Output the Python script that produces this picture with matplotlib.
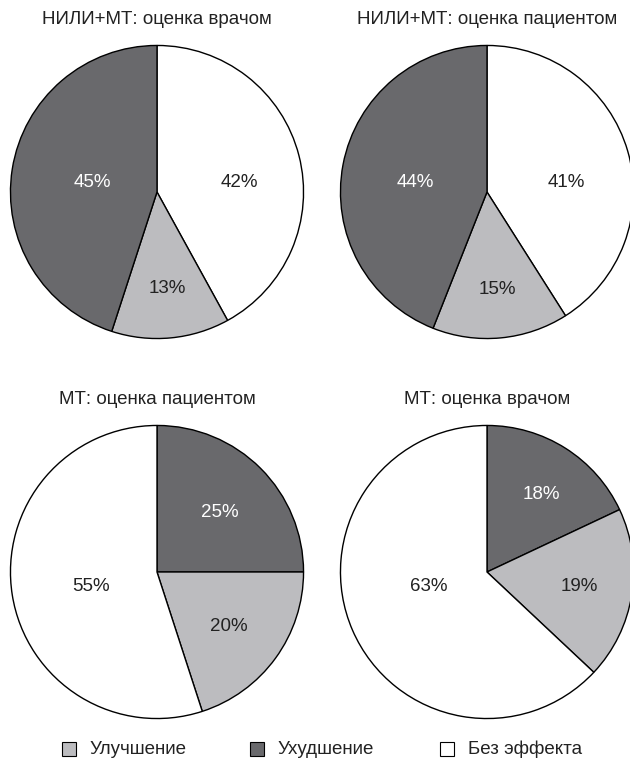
import matplotlib
matplotlib.use('Agg')
import matplotlib.pyplot as plt
from matplotlib.patches import Rectangle

plt.rcParams['font.family'] = ['Liberation Sans', 'DejaVu Sans']

# categories
cats = ['Улучшение', 'Ухудшение', 'Без эффекта']
colors = {'Улучшение': '#bcbcbf', 'Ухудшение': '#69696c', 'Без эффекта': '#ffffff'}

titles = ['НИЛИ+МТ: оценка врачом', 'НИЛИ+МТ: оценка пациентом',
          'МТ: оценка пациентом', 'МТ: оценка врачом']
# clockwise order of slices from 12 o'clock
orders = [['Без эффекта', 'Улучшение', 'Ухудшение'],
          ['Без эффекта', 'Улучшение', 'Ухудшение'],
          ['Ухудшение', 'Улучшение', 'Без эффекта'],
          ['Ухудшение', 'Улучшение', 'Без эффекта']]
values = [[42, 13, 45],
          [41, 15, 44],
          [25, 20, 55],
          [18, 19, 63]]

W, H = 630, 760
FS = 13.5
fig = plt.figure(figsize=(6.3, 7.6), dpi=100)

centers = [(157, 192), (487, 192), (157, 572), (487, 572)]
R = 148
# label offsets from pie centre, pixels (x right, y down)
lab_off = [[(83, -10), (10, 97), (-65, -10)],
           [(80, -10), (10, 98), (-72, -10)],
           [(63, -60), (73, 55), (-67, 15)],
           [(55, -78), (93, 15), (-59, 15)]]

for k in range(4):
    cx, cy = centers[k]
    ax = fig.add_axes([(cx - R) / W, (H - cy - R) / H, 2 * R / W, 2 * R / H])
    order = orders[k]
    wedges, texts, autotexts = ax.pie(
        values[k], colors=[colors[c] for c in order], startangle=90,
        counterclock=False, autopct='%d%%',
        wedgeprops=dict(edgecolor='black', linewidth=1.0),
        textprops=dict(fontsize=FS))
    for t, c, (dx, dy) in zip(autotexts, order, lab_off[k]):
        t.set_color('white' if c == 'Ухудшение' else '#222222')
        t.set_position((dx / R, -dy / R))
    ax.set_xlim(-1.01, 1.01)
    ax.set_ylim(-1.01, 1.01)
    ax.set_aspect('equal')
    fig.text(cx / W, 1 - (cy - R - 24) / H, titles[k], ha='center', va='center',
             fontsize=FS, color='#222222')

# legend
sq_x = [62, 250, 440]
ly = 749
for c, x in zip(cats, sq_x):
    fig.patches.append(Rectangle((x / W, (H - ly - 7) / H), 14 / W, 14 / H,
                                 transform=fig.transFigure, facecolor=colors[c],
                                 edgecolor='black', linewidth=0.8))
    fig.text((x + 28) / W, 1 - ly / H, c, ha='left', va='center',
             fontsize=FS, color='#222222')

fig.savefig('out.png', dpi=100)
